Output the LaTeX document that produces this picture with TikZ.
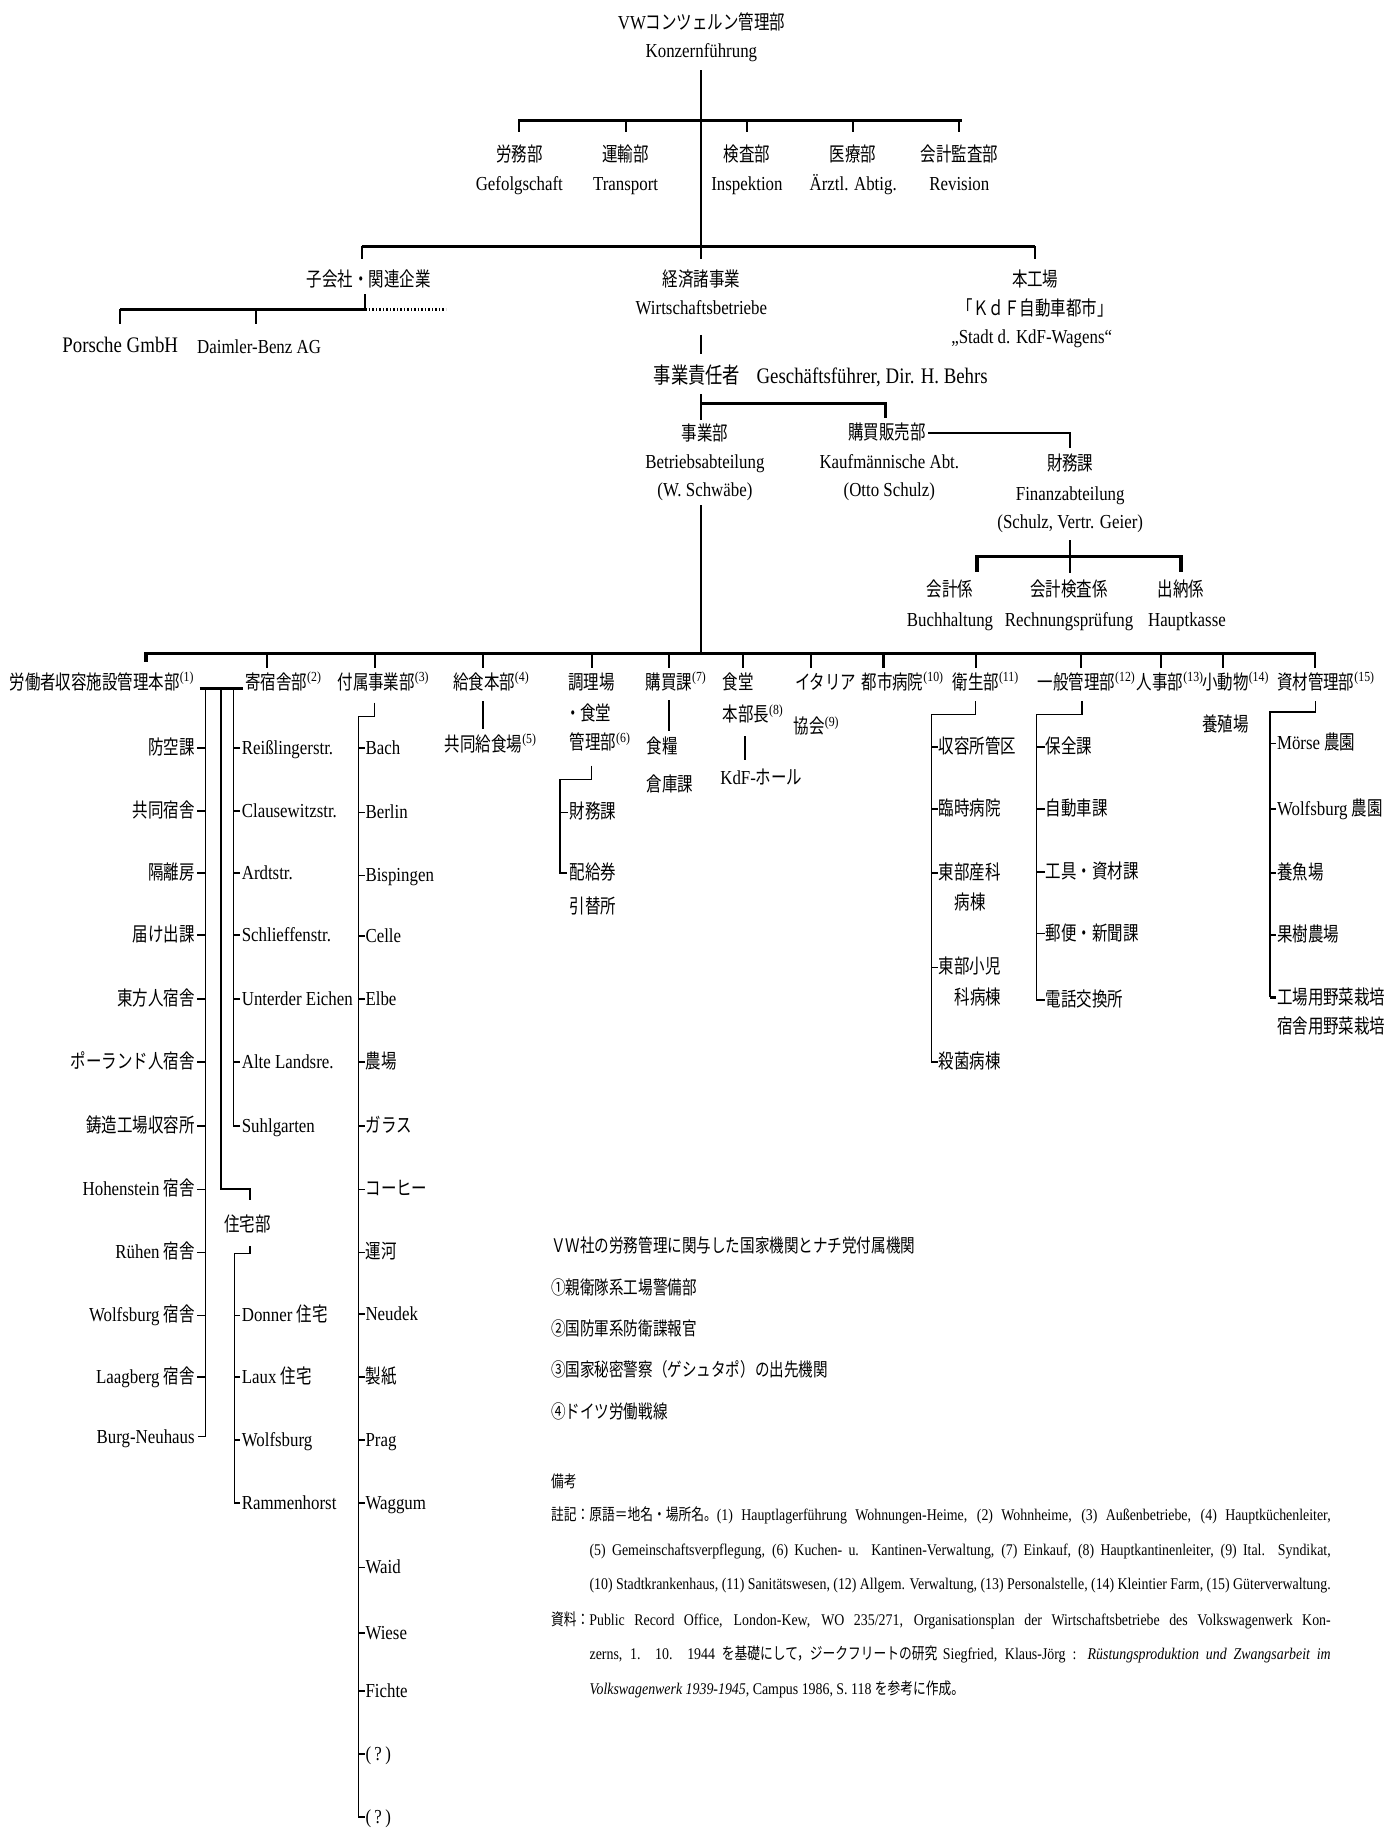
\documentclass[tikz,border=0pt]{standalone}
\usepackage{fontspec}
\setmainfont{Liberation Serif}[FakeStretch=0.85]
\newfontfamily\latfont{Liberation Serif}[FakeStretch=0.85]
\newfontfamily\cjkfont{Noto Sans CJK JP}[FakeStretch=0.78]
\XeTeXinterchartokenstate=1
\newXeTeXintercharclass\CJKcls
\newcount\cjkc
\def\cjkrange#1#2{\cjkc=#1\relax\loop\XeTeXcharclass\cjkc=\CJKcls\relax\ifnum\cjkc<#2\relax\advance\cjkc by 1\relax\repeat}
\cjkrange{"2460}{"24FF}
\cjkrange{"3000}{"30FF}
\cjkrange{"4E00}{"9FFF}
\cjkrange{"FF00}{"FFEF}
\XeTeXinterchartoks 0 \CJKcls = {\cjkfont}
\XeTeXinterchartoks 4095 \CJKcls = {\cjkfont}
\XeTeXinterchartoks \CJKcls 0 = {\latfont}
\XeTeXinterchartoks 4095 0 = {\latfont}
\newcommand\sups[1]{\textsuperscript{\latfont #1}}
\tikzset{
  lb/.style={inner sep=0pt, font=\fontsize{17}{20}\selectfont, text height=14pt, text depth=3pt},
  lbw/.style={lb, anchor=west},
  lbe/.style={lb, anchor=east},
  big/.style={inner sep=0pt, font=\fontsize{19}{22}\selectfont, text height=15pt, text depth=3pt},
  nt/.style={inner sep=0pt, anchor=west, font=\fontsize{14}{17}\selectfont, text height=12pt, text depth=3pt},
  nth/.style={inner sep=0pt, anchor=west, font=\fontsize{16}{19}\selectfont, text height=13pt, text depth=3pt},
  conn/.style={line width=1.8pt},
  hbar/.style={line width=2.8pt},
  lst/.style={line width=1.3pt},
}
\begin{document}
\begin{tikzpicture}[x=1pt,y=-1pt]
\fill[white] (0,0) rectangle (1198,1568);
\useasboundingbox (0,0) rectangle (1198,1568);

% ---------- top ----------
\node[lb] (vw) at (601,20) {VWコンツェルン管理部};
\node[lb] (kf) at (601,44) {Konzernführung};
\coordinate (mA) at (601,60);
\coordinate (mB) at (601,222);
\draw[conn] (mA) -- (mB);
\coordinate (b1L) at (444,103);
\coordinate (b1R) at (824,103);
\draw[hbar] (b1L) -- (b1R);
\foreach \x/\j/\d/\n in {445/労務部/Gefolgschaft/a, 536/運輸部/Transport/b, 640/検査部/Inspektion/c, 731/医療部/Ärztl. Abtig./d, 822/会計監査部/Revision/e} {
  \node[lb] (dj\n) at (\x,133) {\j};
  \node[lb] (dd\n) at (\x,158) {\d};
  \draw[conn] (dj\n.center |- b1L) -- ++(0,10);
}

% ---------- second level ----------
\coordinate (b2L) at (310,211);
\coordinate (b2R) at (887,211);
\draw[hbar] (b2L) -- (b2R);
\draw[conn] (b2L) -- ++(0,11);
\draw[conn] (b2R) -- ++(0,11);
\node[lb] (sub) at (316,240) {子会社・関連企業};
\node[lb] (wb1) at (601,240) {経済諸事業};
\node[lb] (wb2) at (601,264) {Wirtschaftsbetriebe};
\node[lb] (hw1) at (887,240) {本工場};
\node[lb] (hw2) at (887,265) {「ＫｄＦ自動車都市」};
\node[lb] (hw3) at (884,289) {„Stadt d. KdF-Wagens“};

% subsidiaries
\coordinate (sJ) at (313,265);
\draw[conn] (313,252) -- (sJ);
\draw[hbar] (sJ) -- (103,265);
\draw[hbar, dash pattern=on 1.4pt off 1.6pt] (sJ) -- (382,265);
\node[big] (por) at (103,296) {Porsche GmbH};
\node[lb] (dai) at (222,297) {Daimler-Benz AG};
\draw[conn] (por.north |- sJ) -- ++(0,13);
\draw[conn] (219,265) -- ++(0,13);

% Behrs
\coordinate (wbA) at (601,287);
\coordinate (wbB) at (601,303);
\draw[conn] (wbA) -- (wbB);
\node[big, anchor=west] (gf) at (560,323) {事業責任者\hspace{14pt}Geschäftsführer, Dir. H. Behrs};
\coordinate (g1) at (601,338);
\coordinate (g2) at (601,360);
\draw[conn] (g1) -- (g2);
\draw[hbar] (601,346) -- (759,346) -- (759,358);

\node[lb] (bt1) at (604,372) {事業部};
\node[lb] (bt2) at (604,396) {Betriebsabteilung};
\node[lb] (bt3) at (604,420) {(W. Schwäbe)};
\node[lb] (ka1) at (760,371) {購買販売部};
\node[lb] (ka2) at (762,396) {Kaufmännische Abt.};
\node[lb] (ka3) at (762,420) {(Otto Schulz)};
\draw[conn] ([xshift=2pt]ka1.east) -- (917,371) -- (917,384);
\node[lb] (fi1) at (917,398) {財務課};
\node[lb] (fi2) at (917,423) {Finanzabteilung};
\node[lb] (fi3) at (917,447) {(Schulz, Vertr. Geier)};
\draw[conn] (917,463) -- (917,491);
\draw[hbar] (837,490) -- (837,477) -- (1012,477) -- (1012,490);
\node[lb] (c1) at (814,506) {会計係};
\node[lb] (c1e) at (814,531) {Buchhaltung};
\node[lb] (c2) at (916,506) {会計検査係};
\node[lb] (c2e) at (916,531) {Rechnungsprüfung};
\node[lb] (c3) at (1012,506) {出納係};
\node[lb] (c3e) at (1017,531) {Hauptkasse};

% ---------- big bar ----------
\draw[conn] (601,433) -- (601,560);
\draw[hbar] (125,567) -- (125,560) -- (1128,560);
\foreach \x in {229,321,414,507,573,637,695,757,836,926,995,1048,1127}
  \draw[conn] (\x,560) -- (\x,572);

\node[lbw] (r1) at (8,585) {労働者収容施設管理本部\sups{(1)}};
\node[lbw] (r2) at (210,585) {寄宿舎部\sups{(2)}};
\node[lbw] (r3) at (289,585) {付属事業部\sups{(3)}};
\node[lbw] (r4) at (388,585) {給食本部\sups{(4)}};
\node[lb] (r5) at (507,585) {調理場};
\node[lb] (r5b) at (504,612) {・食堂};
\node[lbw] (r5c) at (488,637) {管理部\sups{(6)}};
\node[lbw] (r6) at (553,585) {購買課\sups{(7)}};
\node[lbw] (r7) at (619,585) {食堂};
\node[lbw] (r7b) at (619,613) {本部長\sups{(8)}};
\node[lbw] (r8) at (681,585) {イタリア};
\node[lbw] (r8b) at (680,623) {協会\sups{(9)}};
\node[lbw] (r9) at (738,585) {都市病院\sups{(10)}};
\node[lbw] (r10) at (816,585) {衛生部\sups{(11)}};
\node[lbw] (r11) at (889,585) {一般管理部\sups{(12)}};
\node[lbw] (r12) at (974,585) {人事部\sups{(13)}};
\node[lbw] (r13) at (1030,585) {小動物\sups{(14)}};
\node[lbw] (r13b) at (1030,621) {養殖場};
\node[lbw] (r14) at (1094,585) {資材管理部\sups{(15)}};

% ---------- left group ----------
\draw[hbar] (171,590) -- (208,590);
\draw[lst] (176,590) -- (176,1231) -- (170,1231);
\draw[conn] (189,590) -- (189,1019) -- (214,1019) -- (214,1028);
\draw[lst] (200,590) -- (200,965) -- (205,965);

\foreach \t/\y [count=\i] in {防空課/641, 共同宿舎/695, 隔離房/748, 届け出課/801, 東方人宿舎/856, ポーランド人宿舎/910, 鋳造工場収容所/965, Hohenstein 宿舎/1019, Rühen 宿舎/1073, Wolfsburg 宿舎/1127, Laagberg 宿舎/1180}
  {\node[lbe] (la\i) at (167,\y) {\t};
   \draw[lst] ([xshift=2pt]la\i.east) -- (176,\y);}
\node[lbe] (la12) at (167,1231) {Burg-Neuhaus};

\foreach \t/\y [count=\i] in {Reißlingerstr./641, Clausewitzstr./695, Ardtstr./748, Schlieffenstr./801, Unterder Eichen/856, Alte Landsre./910, Suhlgarten/965}
  {\node[lbw] (lb\i) at (207,\y) {\t};
   \draw[lst] (200,\y) -- ([xshift=-1pt]lb\i.west);}

\node[lb] (ju) at (212,1050) {住宅部};
\draw[lst] (214,1068) -- (214,1074) -- (201,1074) -- (201,1288) -- (205,1288);
\foreach \t/\y [count=\i] in {Donner 住宅/1127, Laux 住宅/1180, Wolfsburg/1234, Rammenhorst/1288}
  {\node[lbw] (lc\i) at (207,\y) {\t};
   \draw[lst] (201,\y) -- ([xshift=-1pt]lc\i.west);}

% ---------- Aussenbetriebe ----------
\draw[lst] (321,602) -- (321,614) -- (307,614) -- (307,1557) -- (312,1557);
\foreach \t/\y [count=\i] in {Bach/641, Berlin/696, Bispingen/750, Celle/802, Elbe/856, 農場/910, ガラス/965, コーヒー/1019, 運河/1073, Neudek/1126, 製紙/1180, Prag/1234, Waggum/1288, Waid/1343, Wiese/1399, Fichte/1449, (\thinspace?\thinspace)/1503, (\thinspace?\thinspace)/1557}
  {\node[lbw] (ld\i) at (313,\y) {\t};
   \draw[lst] (307,\y) -- ([xshift=-0.5pt]ld\i.west);}

% ---------- kitchen etc ----------
\draw[conn] (414,601) -- (414,625);
\node[lbw] (kk) at (381,638) {共同給食場\sups{(5)}};

\draw[lst] (507,656) -- (507,668) -- (480,668) -- (480,748) -- (486,748);
\node[lbw] (ch1) at (488,696) {財務課};
\draw[lst] (480,696) -- ([xshift=-1pt]ch1.west);
\node[lbw] (ch2) at (488,748) {配給券};
\node[lbw] (ch3) at (488,777) {引替所};

\draw[conn] (573,600) -- (573,626);
\node[lbw] (kb1) at (554,640) {食糧};
\node[lbw] (kb2) at (554,673) {倉庫課};

\draw[conn] (638,631) -- (638,651);
\node[lbw] (kdf) at (617,667) {KdF-ホール};

% ---------- Sanitaetswesen ----------
\draw[lst] (836,601) -- (836,612) -- (798,612) -- (798,910) -- (803,910);
\foreach \t/\y [count=\i] in {収容所管区/640, 臨時病院/693, 東部産科/748, 東部小児/829, 殺菌病棟/910}
  {\node[lbw] (le\i) at (804,\y) {\t};
   \draw[lst] (798,\y) -- ([xshift=-0.5pt]le\i.west);}
\node[lbw] (le6) at (818,774) {病棟};
\node[lbw] (le7) at (818,855) {科病棟};

% ---------- Allgem. Verwaltung ----------
\draw[lst] (927,601) -- (927,612) -- (888,612) -- (888,857) -- (894,857);
\foreach \t/\y [count=\i] in {保全課/640, 自動車課/693, 工具・資材課/747, 郵便・新聞課/800, 電話交換所/857}
  {\node[lbw] (lf\i) at (896,\y) {\t};
   \draw[lst] (888,\y) -- ([xshift=-0.5pt]lf\i.west);}

% ---------- Gueterverwaltung ----------
\draw[lst] (1127,601) -- (1127,610) -- (1088,610) -- (1088,854) -- (1093,854);
\foreach \t/\y [count=\i] in {Mörse 農園/637, Wolfsburg 農園/693, 養魚場/748, 果樹農場/801, 工場用野菜栽培/855}
  {\node[lbw] (lg\i) at (1094,\y) {\t};
   \draw[lst] (1088,\y) -- ([xshift=-0.5pt]lg\i.west);}
\node[lbw] (lg6) at (1094,880) {宿舎用野菜栽培};

% ---------- notes ----------
\node[nth] (n0) at (472,1068) {ＶＷ社の労務管理に関与した国家機関とナチ党付属機関};
\node[nth] (n1) at (472,1104) {①親衛隊系工場警備部};
\node[nth] (n2) at (472,1139) {②国防軍系防衛諜報官};
\node[nth] (n3) at (472,1174) {③国家秘密警察（ゲシュタポ）の出先機関};
\node[nth] (n4) at (472,1210) {④ドイツ労働戦線};
\node[nt] (n5) at (472,1270) {備考};
\node[nt] (n6) at (472,1298) {\makebox[668pt][s]{註記：原語＝地名・場所名。(1) Hauptlagerführung Wohnungen-Heime, (2) Wohnheime, (3) Außenbetriebe, (4) Hauptküchenleiter,}};
\node[nt] (n7) at (505,1328) {\makebox[635pt][s]{(5) Gemeinschaftsverpflegung, (6) Kuchen- u.\ \ Kantinen-Verwaltung, (7) Einkauf, (8) Hauptkantinenleiter, (9) Ital. Syndikat,}};
\node[nt] (n8) at (505,1357) {\makebox[635pt][s]{(10) Stadtkrankenhaus, (11) Sanitätswesen, (12) Allgem. Verwaltung, (13) Personalstelle, (14) Kleintier Farm, (15) Güterverwaltung.}};
\node[nt] (n9) at (472,1388) {\makebox[668pt][s]{資料：Public Record Office, London-Kew, WO 235/271, Organisationsplan der Wirtschaftsbetriebe des Volkswagenwerk Kon-}};
\node[nt] (n10) at (505,1417) {\makebox[635pt][s]{zerns, 1. 10. 1944 を基礎にして，ジークフリートの研究 Siegfried, Klaus-Jörg : \textit{Rüstungsproduktion und Zwangsarbeit im}}};
\node[nt] (n11) at (505,1447) {\textit{Volkswagenwerk 1939-1945}, Campus 1986, S. 118 を参考に作成。};
\end{tikzpicture}
\end{document}
